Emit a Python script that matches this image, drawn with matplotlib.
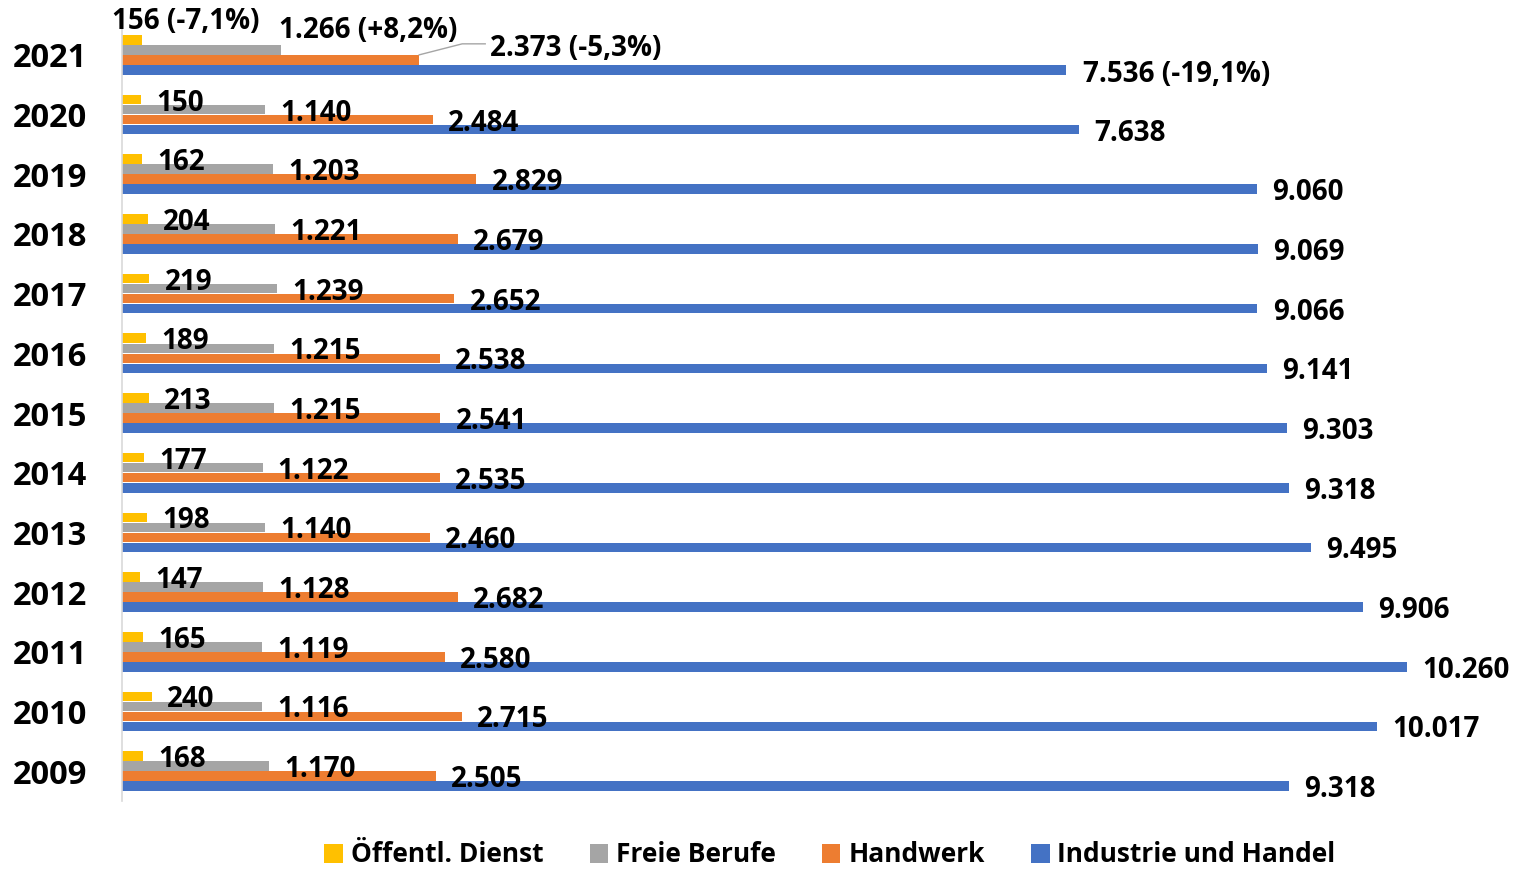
import numpy as np
import matplotlib.pyplot as plt
from matplotlib.patches import Patch

# data, top row first
years = [2021, 2020, 2019, 2018, 2017, 2016, 2015, 2014, 2013, 2012, 2011, 2010, 2009]
oeffentl = [156, 150, 162, 204, 219, 189, 213, 177, 198, 147, 165, 240, 168]
freie = [1266, 1140, 1203, 1221, 1239, 1215, 1215, 1122, 1140, 1128, 1119, 1116, 1170]
handwerk = [2373, 2484, 2829, 2679, 2652, 2538, 2541, 2535, 2460, 2682, 2580, 2715, 2505]
industrie = [7536, 7638, 9060, 9069, 9066, 9141, 9303, 9318, 9495, 9906, 10260, 10017, 9318]
changes_2021 = ["-7,1%", "+8,2%", "-5,3%", "-19,1%"]

series_names = ["Öffentl. Dienst", "Freie Berufe", "Handwerk", "Industrie und Handel"]
colors = ["#FFC000", "#A5A5A5", "#ED7D31", "#4472C4"]

plt.rcParams['font.family'] = ['Open Sans', 'DejaVu Sans']
plt.rcParams['font.weight'] = 'bold'

W, H = 1517, 869
fig = plt.figure(figsize=(W / 100, H / 100), dpi=100)
ax = fig.add_axes([122 / W, 1 - 801 / H, 1 - 122 / W, (801 - 25) / H])

xmax = 11138
ax.set_xlim(0, xmax)
ax.set_ylim(len(years) - 0.5, -0.5)

bar_h = 0.1676
offsets = [-1.5, -0.5, 0.5, 1.5]
all_series = [oeffentl, freie, handwerk, industrie]
y = np.arange(len(years))

for s, (vals, col, off) in enumerate(zip(all_series, colors, offsets)):
    ax.barh(y + off * bar_h, vals, height=bar_h * 0.96, color=col, zorder=2)

fmt = lambda v: f"{v:,}".replace(",", ".")

# offsets in points for 2021 labels (moved in the original)
first_offsets = [(-21, 13), (-1, 14), (51, 8), (12, -3)]
fs = 20
for s, (vals, off) in enumerate(zip(all_series, offsets)):
    for i, v in enumerate(vals):
        yy = y[i] + off * bar_h
        if i == 0:
            txt = f"{fmt(v)} ({changes_2021[s]})"
            dx, dy = first_offsets[s]
        else:
            txt = fmt(v)
            dx, dy = 11, -2.5
        ax.annotate(txt, xy=(v, yy), xytext=(dx, dy), textcoords='offset points',
                    ha='left', va='center', fontsize=fs, fontweight='bold',
                    color='black', zorder=3, annotation_clip=False)

# leader line for the Handwerk 2021 label
px_x = xmax / (W - 122)
px_y = 1 / 59.67
hw = handwerk[0]
y_top = y[0] + offsets[2] * bar_h - bar_h / 2
ax.plot([hw, hw + 43 * px_x, hw + 66 * px_x],
        [y_top, y_top - 11 * px_y, y_top - 11 * px_y],
        color='#A5A5A5', lw=1, zorder=3, clip_on=False)

ax.set_yticks(y)
ax.set_yticklabels([str(yr) for yr in years], fontsize=23.5, fontweight='bold')
ax.tick_params(axis='y', length=0, pad=25)
ax.set_xticks([])
for side in ['top', 'right', 'bottom']:
    ax.spines[side].set_visible(False)
ax.spines['left'].set_color('#D9D9D9')
ax.spines['left'].set_linewidth(1.2)

handles = [Patch(facecolor=c, edgecolor='none') for c in colors]
fig.legend(handles, series_names, loc='center', bbox_to_anchor=(830 / W, 1 - 855 / H),
           ncol=4, frameon=False, handlelength=0.7, handleheight=0.7,
           handletextpad=0.3, columnspacing=1.75, borderpad=0.2,
           prop={'weight': 'bold', 'size': 19})

fig.savefig("out.png", dpi=100)
